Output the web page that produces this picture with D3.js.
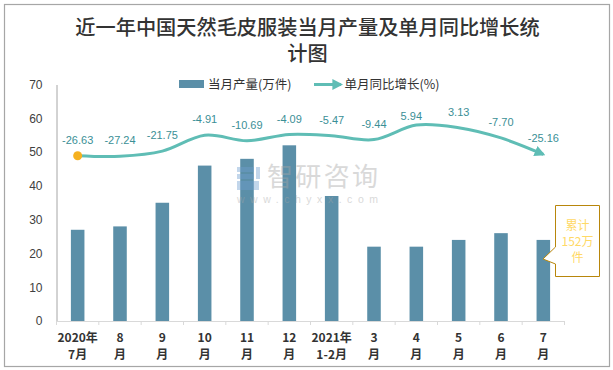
<!DOCTYPE html>
<html>
<head>
<meta charset="utf-8">
<script src="https://cdn.jsdelivr.net/npm/d3@7"></script>
<style>
  body { margin: 0; background: #fff; }
  text { font-family: "Noto Sans CJK SC", "Noto Sans", sans-serif; }
</style>
</head>
<body>
<div id="chart"></div>
<script>
const months = ['2020年|7月', '8|月', '9|月', '10|月', '11|月', '12|月', '2021年|1-2月', '3|月', '4|月', '5|月', '6|月', '7|月'];
const output = [27, 28, 35, 46, 48, 52, 37, 22, 22, 24, 26, 24];
const growth = [-26.63, -27.24, -21.75, -4.91, -10.69, -4.09, -5.47, -9.44, 5.94, 3.13, -7.70, -25.16];
const yTicks = [0, 10, 20, 30, 40, 50, 60, 70];
const titleLines = ['近一年中国天然毛皮服装当月产量及单月同比增长统', '计图'];
const calloutLines = ['累计', '152万', '件'];

const width = 613, height = 370;
const margin = {top: 84.5, right: 48.5, bottom: 49, left: 56.5};
const barColor = '#5b8fa8', lineColor = '#5fbdb5';

const svg = d3.select('#chart').append('svg')
    .attr('width', width)
    .attr('height', height)
    .style('display', 'block');

const defs = svg.append('defs');
defs.append('marker')
    .attr('id', 'arrow')
    .attr('viewBox', '0 0 10 10')
    .attr('refX', 8).attr('refY', 5)
    .attr('markerWidth', 3.6).attr('markerHeight', 3.6)
    .attr('orient', 'auto')
    .append('path')
    .attr('d', 'M0,0L10,5L0,10Z')
    .attr('fill', lineColor);

// frame
svg.append('rect')
    .attr('x', 4.5).attr('y', 4.5)
    .attr('width', 605).attr('height', 362)
    .attr('fill', '#fff')
    .attr('stroke', '#a6a6a6')
    .attr('stroke-width', 1.2);

// title, one text with two lines
const title = svg.append('text')
    .attr('text-anchor', 'middle')
    .style('font-size', '20.2px')
    .style('font-weight', 500)
    .style('fill', '#333');
title.selectAll('tspan')
    .data(titleLines).enter().append('tspan')
    .attr('x', 307.5)
    .attr('y', (d, i) => 35 + i * 25.5)
    .text(d => d);

const x = d3.scaleBand()
    .domain(d3.range(months.length))
    .range([margin.left, width - margin.right])
    .paddingInner(0.68)
    .paddingOuter(0.34);

const y = d3.scaleLinear()
    .domain([0, 70])
    .range([height - margin.bottom, margin.top]);

// hidden secondary axis for the growth line
const y2 = d3.scaleLinear()
    .domain([-202, 49])
    .range([height - margin.bottom, margin.top]);

// axes
const yAxis = svg.append('g')
    .attr('transform', `translate(${margin.left},0)`)
    .call(d3.axisLeft(y).tickValues(yTicks).tickSize(0).tickPadding(14));
yAxis.select('.domain').attr('stroke', '#a6a6a6');
yAxis.selectAll('.tick text')
    .style('font-size', '12px').style('fill', '#404040')
    .style('font-family', '"Liberation Sans", sans-serif');

const xStep = x.step();
const xBase = height - margin.bottom;
svg.append('line')
    .attr('x1', margin.left).attr('x2', width - margin.right)
    .attr('y1', xBase + 0.5).attr('y2', xBase + 0.5)
    .attr('stroke', '#d9d9d9').attr('stroke-width', 1.2);
svg.selectAll('.xtick')
    .data(d3.range(months.length + 1)).enter().append('line')
    .attr('class', 'xtick')
    .attr('x1', d => margin.left + d * xStep).attr('x2', d => margin.left + d * xStep)
    .attr('y1', xBase).attr('y2', xBase + 4)
    .attr('stroke', '#d9d9d9');

// month labels, two lines each
months.forEach((m, i) => {
    const cx = x(i) + x.bandwidth() / 2;
    m.split('|').forEach((part, j) => {
        svg.append('text')
            .attr('x', cx)
            .attr('y', 342 + j * 16.5)
            .attr('text-anchor', 'middle')
            .style('font-size', '12px')
            .style('font-weight', 700)
            .style('fill', '#333')
            .text(part);
    });
});

// bars
svg.selectAll('.bar')
    .data(output).enter().append('rect')
    .attr('class', 'bar')
    .attr('x', (d, i) => x(i))
    .attr('y', d => y(d))
    .attr('width', x.bandwidth())
    .attr('height', d => y(0) - y(d))
    .attr('fill', barColor);

// watermark
const mark = svg.append('g').attr('opacity', 0.42);
mark.append('text')
    .attr('x', 267).attr('y', 186)
    .attr('textLength', 111)
    .style('font-size', '26px')
    .style('fill', '#a6a6a6')
    .text('智研咨询');
mark.append('text')
    .attr('x', 237).attr('y', 202.5)
    .attr('textLength', 141)
    .style('font-size', '10.5px')
    .style('font-family', '"Liberation Sans", sans-serif')
    .style('fill', '#a6a6a6')
    .text('www.chyxx.com');
mark.selectAll('.logo')
    .data([[237, 167, 17, 5], [237, 174, 17, 5], [237, 181, 22, 9], [256, 167, 4, 12]]).enter().append('rect')
    .attr('x', d => d[0]).attr('y', d => d[1])
    .attr('width', d => d[2]).attr('height', d => d[3])
    .attr('fill', '#6f9fd0');

// growth line
const line = d3.line()
    .x((d, i) => x(i) + x.bandwidth() / 2)
    .y(d => y2(d))
    .curve(d3.curveCardinal.tension(0));

svg.append('path')
    .datum(growth)
    .attr('fill', 'none')
    .attr('stroke', lineColor)
    .attr('stroke-width', 3)
    .attr('marker-end', 'url(#arrow)')
    .attr('d', line);

svg.append('circle')
    .attr('cx', x(0) + x.bandwidth() / 2)
    .attr('cy', y2(growth[0]))
    .attr('r', 4.5)
    .attr('fill', '#f5b120');

// growth labels, the 5.94 one sits closer to the line in the original
const peakIdx = 8;
svg.selectAll('.glabel')
    .data(growth).enter().append('text')
    .attr('class', 'glabel')
    .attr('x', (d, i) => x(i) + x.bandwidth() / 2 + (i === peakIdx ? -5 : 0))
    .attr('y', (d, i) => y2(d) - (i === peakIdx ? 5.5 : 12))
    .attr('text-anchor', 'middle')
    .style('font-size', '11px')
    .style('fill', '#3b8f96')
    .style('font-family', '"Liberation Sans", sans-serif')
    .text(d => d.toFixed(2));

// legend
svg.append('rect')
    .attr('x', 179).attr('y', 80)
    .attr('width', 25).attr('height', 8)
    .attr('fill', barColor);
svg.append('text')
    .attr('x', 208).attr('y', 89)
    .style('font-size', '12.5px').style('fill', '#333')
    .text('当月产量(万件)');
svg.append('line')
    .attr('x1', 314).attr('x2', 341)
    .attr('y1', 84.5).attr('y2', 84.5)
    .attr('stroke', lineColor).attr('stroke-width', 3)
    .attr('marker-end', 'url(#arrow)');
svg.append('text')
    .attr('x', 344.5).attr('y', 89)
    .style('font-size', '12.5px').style('fill', '#333')
    .text('单月同比增长(%)');

// callout
const callout = d3.path();
callout.moveTo(555.5, 205.5);
callout.lineTo(599.5, 205.5);
callout.lineTo(599.5, 276.5);
callout.lineTo(555.5, 276.5);
callout.lineTo(555.5, 264);
callout.lineTo(543, 259);
callout.lineTo(555.5, 247);
callout.closePath();
svg.append('path')
    .attr('d', callout.toString())
    .attr('fill', '#fff')
    .attr('stroke', '#b8860b')
    .attr('stroke-width', 1);
svg.selectAll('.callout')
    .data(calloutLines).enter().append('text')
    .attr('class', 'callout')
    .attr('x', 577.5)
    .attr('y', (d, i) => 230 + i * 16)
    .attr('text-anchor', 'middle')
    .style('font-size', '12px')
    .style('fill', '#ffd966')
    .text(d => d);
</script>
</body>
</html>
